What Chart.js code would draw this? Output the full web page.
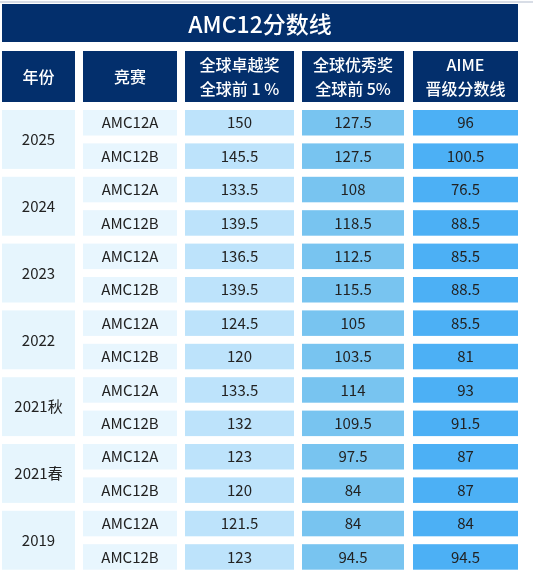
<!DOCTYPE html>
<html>
<head>
<meta charset="utf-8">
<script src="https://cdn.jsdelivr.net/npm/chart.js@4"></script>
<style>body{margin:0;background:#fff}</style>
</head>
<body>
<canvas id="tabela" width="533" height="578"></canvas>
<script>
// dados da tabela
var titulo = "AMC12分数线";
var cabecalho = [["年份"], ["竞赛"], ["全球卓越奖", "全球前 1 %"], ["全球优秀奖", "全球前 5%"], ["AIME", "晋级分数线"]];
var anos = ["2025", "2024", "2023", "2022", "2021秋", "2021春", "2019"];
var competicoes = ["AMC12A", "AMC12B"];
var top1 = ["150", "145.5", "133.5", "139.5", "136.5", "139.5", "124.5", "120", "133.5", "132", "123", "120", "121.5", "123"];
var top5 = ["127.5", "127.5", "108", "118.5", "112.5", "115.5", "105", "103.5", "114", "109.5", "97.5", "84", "84", "94.5"];
var aime = ["96", "100.5", "76.5", "88.5", "85.5", "88.5", "85.5", "81", "93", "91.5", "87", "87", "84", "94.5"];

var colunas = [[2, 75], [83, 177], [185, 294], [302, 404], [413, 518]];
var coresCol = ["#e6f5fd", "#e8f6fe", "#bde3fb", "#78c4f0", "#4cb0f5"];
var azul = "#032f6c";

var desenhaTabela = {
	id: 'desenhaTabela',
	afterDraw: function(chart) {
		var ctx = chart.ctx, sx = chart.scales.x, sy = chart.scales.y;
		function rect(x0, y0, x1, y1, cor) {
			var a = sx.getPixelForValue(x0), b = sy.getPixelForValue(y0);
			ctx.fillStyle = cor;
			ctx.fillRect(a, b, sx.getPixelForValue(x1) - a, sy.getPixelForValue(y1) - b);
		}
		function txt(t, x, y, font, cor) {
			ctx.font = font; ctx.fillStyle = cor;
			ctx.textAlign = 'center'; ctx.textBaseline = 'middle';
			ctx.fillText(t, sx.getPixelForValue(x), sy.getPixelForValue(y));
		}
		var fam = '"Noto Sans CJK SC", "Noto Sans", sans-serif';
		ctx.save();
		rect(0, 1, 533, 3, "#d8dde6");
		rect(2, 4, 518, 42, azul);
		txt(titulo, 260, 24, '500 23px ' + fam, '#fff');
		for (var c = 0; c < colunas.length; c++) {
			var x0 = colunas[c][0], x1 = colunas[c][1], xm = (x0 + x1) / 2;
			rect(x0, 51, x1, 102, azul);
			if (cabecalho[c].length == 1) txt(cabecalho[c][0], xm, 77, '500 16px ' + fam, '#fff');
			else {
				txt(cabecalho[c][0], xm, 65, '500 16px ' + fam, '#fff');
				txt(cabecalho[c][1], xm, 89, '500 16px ' + fam, '#fff');
			}
		}
		var passo = 33.4, topo = 110, alt = 25.5;
		for (var r = 0; r < 14; r++) {
			var y0 = topo + r * passo, ym = y0 + alt / 2;
			if (r % 2 == 0) {
				rect(colunas[0][0], y0, colunas[0][1], y0 + passo + alt, coresCol[0]);
				txt(anos[r / 2], (colunas[0][0] + colunas[0][1]) / 2, y0 + (passo + alt) / 2, '15px ' + fam, '#222');
			}
			var vals = [competicoes[r % 2], top1[r], top5[r], aime[r]];
			for (var c = 1; c < 5; c++) {
				rect(colunas[c][0], y0, colunas[c][1], y0 + alt, coresCol[c]);
				txt(vals[c - 1], (colunas[c][0] + colunas[c][1]) / 2, ym, '15px ' + fam, '#222');
			}
		}
		ctx.restore();
	}
};

new Chart(document.getElementById("tabela"), {
	type: 'scatter',
	data: { datasets: [{ data: [] }] },
	options: {
		responsive: false,
		animation: false,
		layout: { padding: 0 },
		plugins: { legend: { display: false }, tooltip: { enabled: false } },
		scales: {
			x: { type: 'linear', min: 0, max: 533, display: false },
			y: { type: 'linear', min: 0, max: 578, reverse: true, display: false }
		}
	},
	plugins: [desenhaTabela]
});
</script>
</body>
</html>
